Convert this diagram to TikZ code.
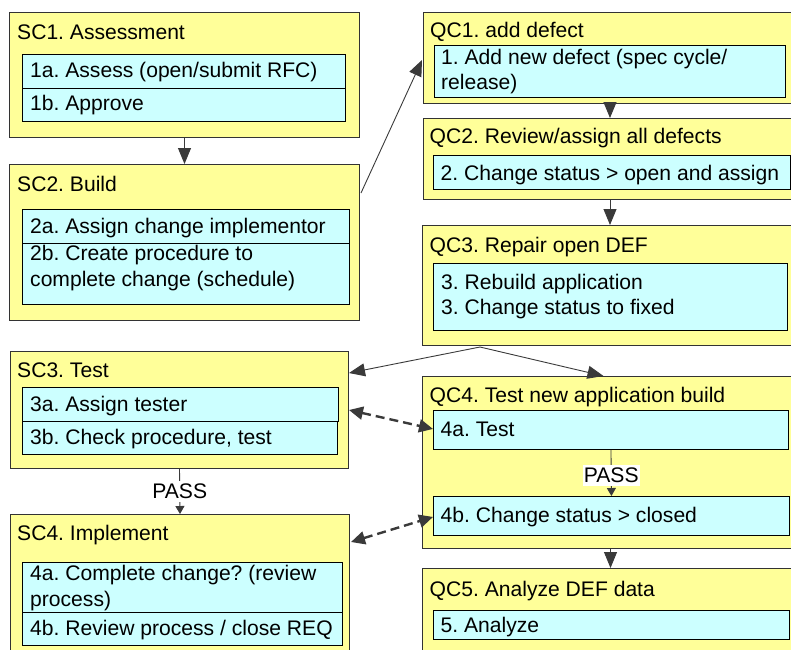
\documentclass[tikz,border=0pt]{standalone}
\usepackage{fontspec}
\setmainfont{Liberation Sans}
\usetikzlibrary{arrows.meta,calc}
\definecolor{stagefill}{HTML}{FFFF99}
\definecolor{taskfill}{HTML}{CCFFFF}
\definecolor{edgegray}{HTML}{3A3A3A}
\definecolor{framegray}{HTML}{333333}
\frenchspacing
\begin{document}
\begin{tikzpicture}[x=1pt,y=-1pt,
  stage/.style={draw=framegray, fill=stagefill, line width=1pt, inner sep=0pt, anchor=north west},
  task/.style={draw=black, fill=taskfill, line width=0.9pt, inner sep=0pt, anchor=north west},
  txt/.style={anchor=base west, inner sep=0pt, font=\fontsize{21.1}{26}\selectfont},
  flow/.style={draw=edgegray, line width=0.9pt, -{Triangle[length=16pt,width=13pt]}},
  smallflow/.style={draw=edgegray, line width=0.9pt, -{Triangle[length=8pt,width=9pt]}},
  dflow/.style={draw=edgegray, line width=2.4pt, dash pattern=on 9pt off 5pt,
    {Triangle[length=14pt,width=13pt]}-{Triangle[length=14pt,width=13pt]}},
  passlbl/.style={fill=white, inner xsep=1pt, inner ysep=3pt, font=\fontsize{21.1}{26}\selectfont}
]
\useasboundingbox (0,0) rectangle (791,649);
\clip (0,0) rectangle (791,649);

% ---------- service change stages (left column) ----------
\node[stage, minimum width=350, minimum height=125] (sc1) at (9,12) {};
\node[txt] (sc1t) at (17,39) {SC1. Assessment};
\node[task, minimum width=323, minimum height=34] (s1a) at (22,54) {};
\node[task, minimum width=323, minimum height=33] (s1b) at (22,88) {};
\node[txt] (s1at) at (30,77) {1a. Assess (open/submit RFC)};
\node[txt] (s1bt) at (30,110.5) {1b. Approve};

\node[stage, minimum width=350, minimum height=156] (sc2) at (9,164) {};
\node[txt] (sc2t) at (17,191) {SC2. Build};
\node[task, minimum width=327, minimum height=34] (s2a) at (22,209) {};
\node[task, minimum width=327, minimum height=61] (s2b) at (22,243) {};
\node[txt] (s2at) at (30,233) {2a. Assign change implementor};
\node[txt] (s2bt1) at (30,260) {2b. Create procedure to};
\node[txt] (s2bt2) at (30,286.5) {complete change (schedule)};

\node[stage, minimum width=338, minimum height=117] (sc3) at (10,351) {};
\node[txt] (sc3t) at (17,377.5) {SC3. Test};
\node[task, minimum width=316, minimum height=34] (s3a) at (22,387) {};
\node[task, minimum width=315, minimum height=33] (s3b) at (22,421) {};
\node[txt] (s3at) at (30,411) {3a. Assign tester};
\node[txt] (s3bt) at (30,444) {3b. Check procedure, test};

\node[stage, minimum width=339, minimum height=160] (sc4) at (10,514) {};
\node[txt] (sc4t) at (17,540) {SC4. Implement};
\node[task, minimum width=320, minimum height=50] (s4a) at (22,562) {};
\node[task, minimum width=320, minimum height=33] (s4b) at (22,612) {};
\node[txt] (s4at1) at (30,580.5) {4a. Complete change? (review};
\node[txt] (s4at2) at (30,606.5) {process)};
\node[txt] (s4bt) at (30,635) {4b. Review process / close REQ};

% ---------- quality centre stages (right column) ----------
\node[stage, minimum width=375, minimum height=91] (qc1) at (423,12) {};
\node[txt] (qc1t) at (430,37) {QC1. add defect};
\node[task, minimum width=351, minimum height=52] (q1) at (434,45) {};
\node[txt] (q1t1) at (441,64) {1. Add new defect (spec cycle/};
\node[txt] (q1t2) at (441,89.5) {release)};

\node[stage, minimum width=375, minimum height=81] (qc2) at (423,118) {};
\node[txt] (qc2t) at (429.5,143.5) {QC2. Review/assign all defects};
\node[task, minimum width=357, minimum height=34] (q2) at (433,155) {};
\node[txt] (q2t) at (440.5,180) {2. Change status > open and assign};

\node[stage, minimum width=376, minimum height=120] (qc3) at (422,225) {};
\node[txt] (qc3t) at (429.5,252) {QC3. Repair open DEF};
\node[task, minimum width=354, minimum height=67] (q3) at (433,263) {};
\node[txt] (q3t1) at (441,289.5) {3. Rebuild application};
\node[txt] (q3t2) at (441,314) {3. Change status to fixed};

\node[stage, minimum width=376, minimum height=172] (qc4) at (422,376) {};
\node[txt] (qc4t) at (429.5,402.5) {QC4. Test new application build};
\node[task, minimum width=355, minimum height=39] (q4a) at (433,410) {};
\node[task, minimum width=356, minimum height=39] (q4b) at (433,496) {};
\node[txt] (q4at) at (440.5,436) {4a. Test};
\node[txt] (q4bt) at (440.5,522.5) {4b. Change status > closed};

\node[stage, minimum width=376, minimum height=100] (qc5) at (422,568) {};
\node[txt] (qc5t) at (429.5,596) {QC5. Analyze DEF data};
\node[task, minimum width=356, minimum height=29] (q5) at (433,610) {};
\node[txt] (q5t) at (440.5,632) {5. Analyze};

% ---------- connectors ----------
\draw[flow] (sc1.south) -- (sc2.north);
\draw[flow] ($(sc2.north east)+(1,29)$) -- ($(qc1.north west)+(-1,48)$);
\draw[flow] ($(qc1.south west)+(187,0)$) -- ($(qc2.north west)+(187,0)$);
\draw[flow] ($(qc2.south west)+(187,0)$) -- ($(qc3.north west)+(188,0)$);

\coordinate (split) at ($(qc3.south west)+(58,1)$);
\draw[flow] (split) -- ($(sc3.north east)+(0,22)$);
\draw[flow] (split) -- ($(qc4.north)+(-7,0)$);

\draw[dflow] ($(sc3.north east)+(0,59)$) -- ($(q4a.west)+(0,-1)$);
\draw[dflow] ($(sc4.north east)+(1,28)$) -- ($(q4b.west)+(0,1)$);

\draw[smallflow] (sc3.south) -- node[passlbl] (passl) {PASS} (sc4.north);
\draw[smallflow] (q4a.south) -- node[passlbl, pos=0.55] (passr) {PASS} (q4b.north);

\draw[flow] (qc4.south) -- (qc5.north);
\end{tikzpicture}
\end{document}
